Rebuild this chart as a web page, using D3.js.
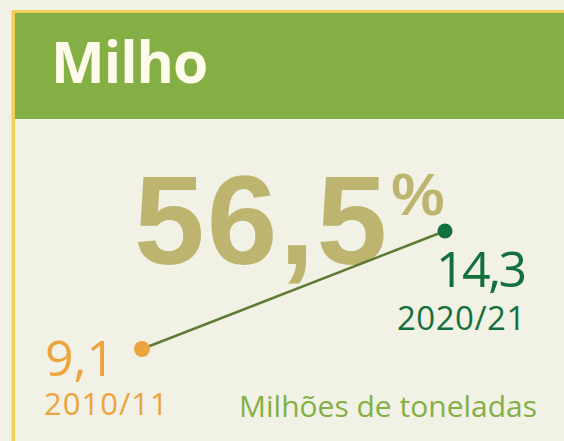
<!DOCTYPE html>
<html><head><meta charset="utf-8">
<script src="https://cdn.jsdelivr.net/npm/d3@7"></script>
<style>html,body{margin:0;padding:0;background:#f2f1e6;}svg{display:block;}</style>
</head><body>
<div id="chart"></div>
<script>
const title = "Milho";
const seasons = ["2010/11", "2020/21"];
const years = [2010, 2020];
const values = [9.1, 14.3];
const growthLabel = "56,5";
const unitLabel = "Milhões de toneladas";
const colors = ["#eca43e", "#11703b"];

const W = 564, H = 441;
const svg = d3.select("#chart").append("svg").attr("width", W).attr("height", H);
svg.append("rect").attr("width", W).attr("height", H).attr("fill", "#f2f1e6");
// frame
svg.append("rect").attr("x", 11.5).attr("y", 10).attr("width", W).attr("height", H).attr("fill", "#f3cf5a");
svg.append("rect").attr("x", 15).attr("y", 13).attr("width", W).attr("height", H).attr("fill", "#f2f1e6");
svg.append("rect").attr("x", 15).attr("y", 13).attr("width", W).attr("height", 106).attr("fill", "#84af45");
svg.append("text").attr("x", 51).attr("y", 83).text(title).attr("letter-spacing", -1)
  .attr("font-family", "Open Sans").attr("font-weight", 700).attr("font-size", 57).attr("fill", "#fdfbe9");

const x = d3.scaleLinear().domain([2010, 2020]).range([142, 445]);
const y = d3.scaleLinear().domain([9.1, 14.3]).range([349, 231]);
const fmt = v => d3.format(".1f")(v).replace(".", ",");

// big percentage
const g = svg.append("text").attr("x", 134).attr("y", 264)
  .attr("font-family", "Liberation Sans").attr("font-weight", 700).attr("fill", "#bdb56f");
g.append("tspan").attr("font-size", 127).attr("letter-spacing", 2).text(growthLabel);
g.append("tspan").attr("font-size", 60).attr("dx", 2).attr("dy", -49).text("%");

svg.append("line")
  .attr("x1", x(years[0])).attr("y1", y(values[0]))
  .attr("x2", x(years[1])).attr("y2", y(values[1]))
  .attr("stroke", "#5e7a35").attr("stroke-width", 2.5);

svg.selectAll("circle.pt").data(values).join("circle")
  .attr("cx", (d, i) => x(years[i])).attr("cy", d => y(d))
  .attr("r", (d, i) => i === 0 ? 8 : 7.5).attr("fill", (d, i) => colors[i]);

// labels
const lab = [
  {vx: x(years[0]) - 97, vy: y(values[0]) + 27, sx: x(years[0]) - 98, sy: y(values[0]) + 66, vs: 50, ss: 31, ls: 1},
  {vx: x(years[1]) - 9, vy: y(values[1]) + 56, sx: x(years[1]) - 48, sy: y(values[1]) + 99, vs: 50, ss: 33, ls: 0.5}
];
values.forEach((v, i) => {
  svg.append("text").attr("x", lab[i].vx).attr("y", lab[i].vy).text(fmt(v))
    .attr("letter-spacing", i === 1 ? -2.5 : 0)
    .attr("font-family", "Open Sans").attr("font-size", lab[i].vs).attr("fill", colors[i]);
  svg.append("text").attr("x", lab[i].sx).attr("y", lab[i].sy).text(seasons[i])
    .attr("letter-spacing", lab[i].ls)
    .attr("font-family", "Open Sans").attr("font-size", lab[i].ss).attr("fill", colors[i]);
});

svg.append("text").attr("x", 239).attr("y", 417).text(unitLabel)
  .attr("font-family", "Open Sans").attr("font-size", 30).attr("fill", "#83b045");
</script>
</body></html>
